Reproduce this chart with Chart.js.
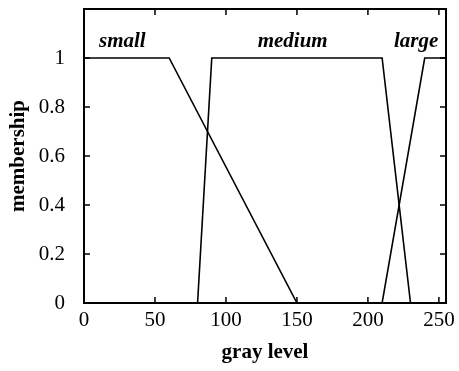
<!doctype html>
<html lang="en">
    <head>
        <meta charset="UTF-8" />
        <title>Membership functions</title>
        <script src="https://cdn.jsdelivr.net/npm/chart.js"></script>
        <style>
            body { margin: 0; background: #fff; }
            #wrap { width: 459px; height: 371px; }
        </style>
    </head>
    <body>
        <div id="wrap"><canvas id="chart" width="459" height="371"></canvas></div>
        <script>
            // membership functions as breakpoints
            const smallX = [0, 60, 150];
            const smallY = [1, 1, 0];
            const mediumX = [80, 90, 210, 230];
            const mediumY = [0, 1, 1, 0];
            const largeX = [210, 240, 255];
            const largeY = [0, 1, 1];
            const xTicks = [0, 50, 100, 150, 200, 250];
            const yTicks = [0, 0.2, 0.4, 0.6, 0.8, 1];
            const setNames = ["small", "medium", "large"];
            const nameX = [27, 147, 234];
            const nameY = [1.065, 1.065, 1.065];

            const pts = (xs, ys) => xs.map((x, i) => ({ x: x, y: ys[i] }));
            const serif = "'Liberation Serif', 'DejaVu Serif', serif";

            const frame = {
                id: "frame",
                afterDraw(chart) {
                    const ctx = chart.ctx;
                    const a = chart.chartArea;
                    const xs = chart.scales.x, ys = chart.scales.y;
                    ctx.save();
                    ctx.strokeStyle = "#000";
                    ctx.lineWidth = 2;
                    ctx.strokeRect(a.left, a.top, a.right - a.left, a.bottom - a.top);
                    ctx.lineWidth = 1.5;
                    ctx.beginPath();
                    xTicks.forEach((v) => {
                        const px = xs.getPixelForValue(v);
                        ctx.moveTo(px, a.bottom); ctx.lineTo(px, a.bottom - 6);
                        ctx.moveTo(px, a.top); ctx.lineTo(px, a.top + 6);
                    });
                    yTicks.forEach((v) => {
                        const py = ys.getPixelForValue(v);
                        ctx.moveTo(a.left, py); ctx.lineTo(a.left + 6, py);
                        ctx.moveTo(a.right, py); ctx.lineTo(a.right - 6, py);
                    });
                    ctx.stroke();
                    // set names
                    ctx.fillStyle = "#000";
                    ctx.font = "italic bold 21px " + serif;
                    ctx.textAlign = "center";
                    ctx.textBaseline = "middle";
                    setNames.forEach((n, i) => {
                        ctx.fillText(n, xs.getPixelForValue(nameX[i]), ys.getPixelForValue(nameY[i]));
                    });
                    ctx.restore();
                },
            };

            const line = (data) => ({
                data: data,
                borderColor: "#000",
                borderWidth: 1.6,
                pointRadius: 0,
                fill: false,
                tension: 0,
            });

            new Chart(document.getElementById("chart"), {
                type: "line",
                data: {
                    datasets: [
                        line(pts(smallX, smallY)),
                        line(pts(mediumX, mediumY)),
                        line(pts(largeX, largeY)),
                    ],
                },
                options: {
                    responsive: false,
                    animation: false,
                    layout: { padding: { top: 9, right: 13, left: 0, bottom: 0 } },
                    plugins: { legend: { display: false }, tooltip: { enabled: false } },
                    scales: {
                        x: {
                            type: "linear",
                            min: 0,
                            max: 255,
                            grid: { display: false },
                            border: { display: false },
                            afterBuildTicks: (s) => { s.ticks = xTicks.map((v) => ({ value: v })); },
                            afterFit: (s) => { s.height = 68; s.paddingLeft = 0; s.paddingRight = 0; },
                            ticks: {
                                color: "#000",
                                padding: -3,
                                maxRotation: 0,
                                font: { family: serif, size: 21 },
                            },
                            title: {
                                display: true,
                                text: "gray level",
                                color: "#000",
                                font: { family: serif, size: 21, weight: "bold" },
                                padding: { top: 0, bottom: 6 },
                            },
                        },
                        y: {
                            min: 0,
                            max: 1.2,
                            grid: { display: false },
                            border: { display: false },
                            afterBuildTicks: (s) => { s.ticks = yTicks.map((v) => ({ value: v })); },
                            afterFit: (s) => { s.width = 84; s.paddingTop = 0; s.paddingBottom = 0; },
                            ticks: {
                                color: "#000",
                                padding: 11,
                                font: { family: serif, size: 21 },
                                callback: (v) => String(v),
                            },
                            title: {
                                display: true,
                                text: "membership",
                                color: "#000",
                                font: { family: serif, size: 21, weight: "bold" },
                                padding: { top: 6, bottom: 0 },
                            },
                        },
                    },
                },
                plugins: [frame],
            });
        </script>
    </body>
</html>
